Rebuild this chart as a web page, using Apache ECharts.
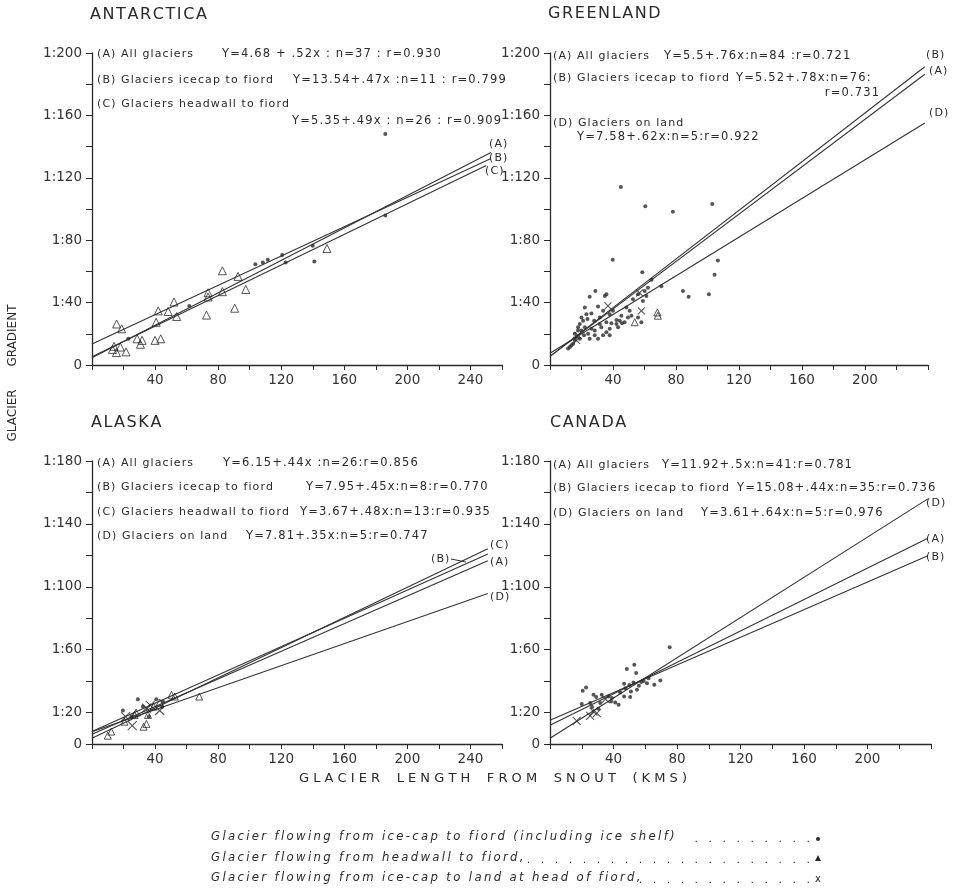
<!DOCTYPE html>
<html><head><meta charset="utf-8">
<script src="https://cdn.jsdelivr.net/npm/echarts@6/dist/echarts.min.js"></script>
<style>html,body{margin:0;padding:0;background:#fff}#c{width:966px;height:892px}</style>
</head><body><div id="c"></div>
<script>
// ---------------- DATA ----------------
const panelTitles = ['ANTARCTICA', 'GREENLAND', 'ALASKA', 'CANADA'];
const yLabelsTop = [0, 40, 80, 120, 160, 200];
const yLabelsBottom = [0, 20, 60, 100, 140, 180];
const xLabelsLeft = [40, 80, 120, 160, 200, 240];
const xLabelsRight = [40, 80, 120, 160, 200];

// Antarctica
const antIcecap = [[23,16.8],[61.7,37.9],[103.6,64.6],[108.3,65.7],[111.5,67.4],[120.6,70.5],[122.8,65.7],[140,76.4],[141,66.3],[186,95.8],[186,148]];
const antHeadwall = [[15.6,26.3],[18.8,23.2],[13,10],[15.5,8],[14,12],[18,11.5],[21.6,8.4],[28.6,16.8],[31.8,15.8],[30.7,13.3],[40,15.8],[43.6,16.8],[40.7,27.4],[42,34.7],[48.3,34.3],[52,40.4],[53.7,31.1],[72.6,32],[73.6,46.3],[73.6,43.6],[82.7,60.4],[82.7,47],[90.5,36.4],[92.6,56.8],[97.5,48.4],[149,74.7]];
const antFitNames = ['A', 'B', 'C'];
const antIntercepts = [4.68, 13.54, 5.35];
const antSlopes = [0.52, 0.47, 0.49];
const antFitEnds = [253, 253, 250];

// Greenland
const grnIcecap = [[45,114.1],[60.5,101.7],[78,98.3],[103,103.2],[39.8,67.4],[106.6,67],[104.5,57.9],[58.6,59.4],[84.4,47.4],[88,43.8],[100.9,45.3],[70.7,50.5],[64.4,54.7],[28.8,47.4],[25.2,43.8],[35.8,45.3],[34.8,44.2],[22.1,36.8],[30.5,37.5],[26.3,33],[21,28.4],[23.8,29.5],[18.9,26.3],[28,28.4],[31.6,30.5],[33.7,34.7],[37.9,32.6],[39,26.7],[42.2,28.8],[45.3,31.6],[47.4,27.4],[49.5,30.5],[42.2,26.3],[44.3,28.4],[51.7,31.6],[55.9,30.5],[58,27.4],[35.8,21],[28.4,22.1],[32.6,24.2],[30.5,16.8],[33.7,19],[37.9,23.2],[26.3,23.2],[24.2,20],[20,22.1],[22.1,24.2],[17.8,22.1],[16.8,17.9],[14.7,13.7],[11.5,10.5],[13.6,12.6],[15.7,20],[18.9,16.8],[21.6,19],[25.2,16.8],[28.4,19],[31.6,26.3],[35.8,27.4],[40,34.7],[48.5,36.8],[52.7,42.1],[55.9,45.3],[60.1,47.4],[62.2,49.5],[59,41.1],[61.2,44.2],[50.6,34.7],[45.7,26.7],[43.2,24.2],[37.9,19],[23.1,32.6],[20,30.5],[17.8,24.2],[15.7,15.8],[12.6,11.6]];
const grnHeadwall = [[53.8,27.4],[68.2,33.7],[68.5,31.6]];
const grnLand = [[36.8,37.9],[56.9,46.3],[58,34.7],[16.8,15.8],[17.8,19]];
const grnFitNames = ['A', 'B', 'D'];
const grnIntercepts = [5.5, 5.52, 7.58];
const grnSlopes = [0.76, 0.78, 0.62];
const grnFitEnds = [238, 238, 238];

// Alaska
const alaIcecap = [[19.6,21.3],[29.1,28.5],[40.8,28.5],[45,27],[25,17.5],[32.3,23.8],[36,17.5],[44.5,23.5]];
const alaHeadwall = [[10,5.3],[12.2,7.9],[20.6,14.2],[27,18.5],[28,20],[35.5,18.5],[34.5,12.8],[32.7,11],[39.1,23.8],[42.9,26.4],[50.4,31.3],[52.5,30.2],[68,30.2]];
const alaLand = [[21.3,17.4],[25.5,11.7],[34.5,22.8],[42.9,21.3],[37,24.5]];
const alaFitNames = ['A', 'B', 'C', 'D'];
const alaIntercepts = [6.15, 7.95, 3.67, 7.81];
const alaSlopes = [0.44, 0.45, 0.48, 0.35];
const alaFitEnds = [251, 251, 251, 251];

// Canada
const canIcecap = [[75.4,61.5],[53.1,50.4],[48.4,47.7],[54.3,45.1],[22.7,35.9],[20.6,33.8],[69.5,40.4],[65.7,37.7],[61.1,38.7],[62.1,41.8],[52.6,39.1],[54.8,34.5],[51,33.4],[46.7,38.3],[46.7,30.2],[50.5,29.9],[43.2,24.9],[41.1,26.4],[20,25.5],[27.4,31.3],[29.1,29.9],[32.6,31.3],[31.6,26],[25.3,26],[36.8,30.2],[59,40],[56,37],[50,37.5],[44.2,32.7],[39,29.2],[47.5,35.5],[26.5,23.5],[30.5,22.5],[57.5,39.5],[38.5,27]];
const canLand = [[16.8,14.7],[25.3,17.9],[27.4,20.6],[29.5,19.6],[35,28.5]];
const canFitNames = ['A', 'B', 'D'];
const canIntercepts = [11.92, 15.08, 3.61];
const canSlopes = [0.5, 0.44, 0.64];
const canFitEnds = [238, 238, 238];

const legendTexts = [
  'Glacier flowing from ice-cap to fiord (including ice shelf)',
  'Glacier flowing from headwall to fiord,',
  'Glacier flowing from ice-cap to land at head of fiord,'
];

// ---------------- CHART ----------------
const FONT = 'DejaVu Sans';
const INK = '#2a2a2a';
const HAIR = '\u200A';
const THIN = '\u2009';
const sp = (s, ch) => s.split('').join(ch);
const chart = echarts.init(document.getElementById('c'));

const grids = [
  {left: 92, top: 53, width: 410, height: 312},
  {left: 550, top: 53, width: 378, height: 312},
  {left: 92, top: 461, width: 410, height: 283},
  {left: 550, top: 461, width: 381, height: 283}
];
const xMax = [260, 240, 260, 240];
const yMax = [200, 200, 180, 180];
const xLab = [xLabelsLeft, xLabelsRight, xLabelsLeft, xLabelsRight];
const yLab = [yLabelsTop, yLabelsTop, yLabelsBottom, yLabelsBottom];

const xAxes = grids.map((g, i) => ({
  gridIndex: i, type: 'value', min: 0, max: xMax[i], interval: 20,
  axisLine: {show: true, onZero: false, lineStyle: {color: INK, width: 1.3}},
  axisTick: {show: true, length: 5, lineStyle: {color: INK, width: 1}},
  splitLine: {show: false},
  axisLabel: {margin: 8, color: '#333', fontSize: 13.5, fontFamily: FONT,
    showMinLabel: true, showMaxLabel: true,
    formatter: v => xLab[i].includes(v) ? String(v) : ''}
}));
const yAxes = grids.map((g, i) => ({
  gridIndex: i, type: 'value', min: 0, max: yMax[i], interval: 20,
  axisLine: {show: true, onZero: false, lineStyle: {color: INK, width: 1.3}},
  axisTick: {show: true, length: 6, lineStyle: {color: INK, width: 1}},
  splitLine: {show: false},
  axisLabel: {margin: 10, color: '#333', fontSize: 13.5, fontFamily: FONT,
    showMinLabel: true, showMaxLabel: true,
    formatter: v => yLab[i].includes(v) ? (v === 0 ? '0' : '1:' + v) : ''}
}));

const CROSS = 'path://M0,0L10,10M10,0L0,10';
function dots(i, data, size) {
  return {type: 'scatter', xAxisIndex: i, yAxisIndex: i, data, symbol: 'circle', symbolSize: size || 4,
    itemStyle: {color: INK}, silent: true, z: 3};
}
function tris(i, data, size) {
  return {type: 'scatter', xAxisIndex: i, yAxisIndex: i, data, symbol: 'triangle', symbolSize: size || 8,
    itemStyle: {color: 'rgba(255,255,255,0)', borderColor: INK, borderWidth: 1}, silent: true, z: 3};
}
function crosses(i, data, size) {
  return {type: 'scatter', xAxisIndex: i, yAxisIndex: i, data, symbol: CROSS, symbolSize: size || 8,
    itemStyle: {color: 'none', borderColor: INK, borderWidth: 1.1}, silent: true, z: 3};
}
function fits(i, intercepts, slopes, ends) {
  return intercepts.map((b, k) => ({
    type: 'line', xAxisIndex: i, yAxisIndex: i, symbol: 'none', silent: true, z: 2,
    lineStyle: {color: '#333', width: 1.1},
    data: [[0, b], [ends[k], b + slopes[k] * ends[k]]]
  }));
}

const series = [
  ...fits(0, antIntercepts, antSlopes, antFitEnds),
  dots(0, antIcecap, 4), tris(0, antHeadwall, 8),
  ...fits(1, grnIntercepts, grnSlopes, grnFitEnds),
  dots(1, grnIcecap, 4), tris(1, grnHeadwall, 7), crosses(1, grnLand, 7),
  ...fits(2, alaIntercepts, alaSlopes, alaFitEnds),
  dots(2, alaIcecap, 4), tris(2, alaHeadwall, 7), crosses(2, alaLand, 9),
  ...fits(3, canIntercepts, canSlopes, canFitEnds),
  dots(3, canIcecap, 4), crosses(3, canLand, 8)
];

function T(x, y, text, opt) {
  opt = opt || {};
  const size = opt.size || 11.5;
  const s = opt.raw ? text : sp(text, opt.gap === undefined ? HAIR : opt.gap);
  return {
    type: 'text', x, y, rotation: opt.rot || 0, silent: true,
    style: {
      text: s, fill: opt.color || '#2a2a2a',
      font: (opt.italic ? 'italic ' : '') + (opt.weight || 'normal') + ' ' + size + 'px "' + FONT + '"',
      textAlign: opt.align || 'left', align: opt.align || 'left',
      textVerticalAlign: 'middle', verticalAlign: 'middle'
    }
  };
}
function L(x1, y1, x2, y2) {
  return {type: 'line', silent: true, shape: {x1, y1, x2, y2}, style: {stroke: '#333', lineWidth: 1}};
}
const LAB = {size: 11};

const g = [];
// titles
g.push(T(90, 15, panelTitles[0], {size: 16}));
g.push(T(548, 14, panelTitles[1], {size: 16}));
g.push(T(91, 423, panelTitles[2], {size: 16}));
g.push(T(550, 423, panelTitles[3], {size: 16}));

// Antarctica annotations
g.push(T(97, 54, '(A) All glaciers', LAB));
g.push(T(222, 54, 'Y=4.68 + .52x : n=37 : r=0.930'));
g.push(T(97, 80, '(B) Glaciers icecap to fiord', LAB));
g.push(T(293, 80, 'Y=13.54+.47x :n=11 : r=0.799'));
g.push(T(97, 104, '(C) Glaciers headwall to fiord', LAB));
g.push(T(292, 121, 'Y=5.35+.49x : n=26 : r=0.909'));
g.push(T(489, 144, '(' + antFitNames[0] + ')', {size: 11}));
g.push(T(489, 158, '(' + antFitNames[1] + ')', {size: 11}));
g.push(T(485, 171, '(' + antFitNames[2] + ')', {size: 11}));

// Greenland annotations
g.push(T(553, 56, '(A) All glaciers', LAB));
g.push(T(664, 56, 'Y=5.5+.76x:n=84 :r=0.721'));
g.push(T(553, 78, '(B) Glaciers icecap to fiord', LAB));
g.push(T(736, 78, 'Y=5.52+.78x:n=76:'));
g.push(T(879, 93, 'r=0.731', {align: 'right'}));
g.push(T(553, 123, '(D) Glaciers on land', LAB));
g.push(T(577, 137, 'Y=7.58+.62x:n=5:r=0.922'));
g.push(T(926, 55, '(' + grnFitNames[1] + ')', {size: 11}));
g.push(T(929, 71, '(' + grnFitNames[0] + ')', {size: 11}));
g.push(T(929, 113, '(' + grnFitNames[2] + ')', {size: 11}));

// Alaska annotations
g.push(T(97, 463, '(A) All glaciers', LAB));
g.push(T(223, 463, 'Y=6.15+.44x :n=26:r=0.856'));
g.push(T(97, 487, '(B) Glaciers icecap to fiord', LAB));
g.push(T(306, 487, 'Y=7.95+.45x:n=8:r=0.770'));
g.push(T(97, 512, '(C) Glaciers headwall to fiord', LAB));
g.push(T(300, 512, 'Y=3.67+.48x:n=13:r=0.935'));
g.push(T(97, 536, '(D) Glaciers on land', LAB));
g.push(T(246, 536, 'Y=7.81+.35x:n=5:r=0.747'));
g.push(T(431, 559, '(' + alaFitNames[1] + ')', {size: 11}));
g.push(L(451, 559, 466, 562));
g.push(T(490, 545, '(' + alaFitNames[2] + ')', {size: 11}));
g.push(T(490, 562, '(' + alaFitNames[0] + ')', {size: 11}));
g.push(T(490, 597, '(' + alaFitNames[3] + ')', {size: 11}));

// Canada annotations
g.push(T(553, 465, '(A) All glaciers', LAB));
g.push(T(662, 465, 'Y=11.92+.5x:n=41:r=0.781'));
g.push(T(553, 488, '(B) Glaciers icecap to fiord', LAB));
g.push(T(737, 488, 'Y=15.08+.44x:n=35:r=0.736'));
g.push(T(553, 513, '(D) Glaciers on land', LAB));
g.push(T(701, 513, 'Y=3.61+.64x:n=5:r=0.976'));
g.push(T(926, 503, '(' + canFitNames[2] + ')', {size: 11}));
g.push(T(926, 539, '(' + canFitNames[0] + ')', {size: 11}));
g.push(T(926, 557, '(' + canFitNames[1] + ')', {size: 11}));

// axis titles
g.push(T(13, 373, 'GLACIER      GRADIENT', {rot: Math.PI / 2, align: 'center', size: 12, raw: true}));
g.push(T(493, 779, 'G L A C I E R    L E N G T H    F R O M    S N O U T    ( K M S )', {align: 'center', size: 13, raw: true}));

// legend
const legY = [837, 858, 878];
const leaderCounts = [9, 21, 13];
legendTexts.forEach((t, k) => {
  g.push(T(211, legY[k], t, {italic: true, size: 11.7, gap: THIN}));
  g.push(T(810, legY[k] + 2, Array(leaderCounts[k]).fill('.').join('   '), {size: 11, align: 'right', raw: true}));
});
g.push({type: 'circle', silent: true, shape: {cx: 818, cy: 839, r: 2}, style: {fill: INK}});
g.push({type: 'polygon', silent: true, shape: {points: [[815, 861], [821, 861], [818, 855]]}, style: {fill: INK}});
g.push(T(818, 879, 'x', {size: 10, align: 'center', raw: true}));

chart.setOption({
  animation: false,
  backgroundColor: '#fff',
  grid: grids,
  xAxis: xAxes,
  yAxis: yAxes,
  series,
  graphic: {elements: g}
});
</script></body></html>
